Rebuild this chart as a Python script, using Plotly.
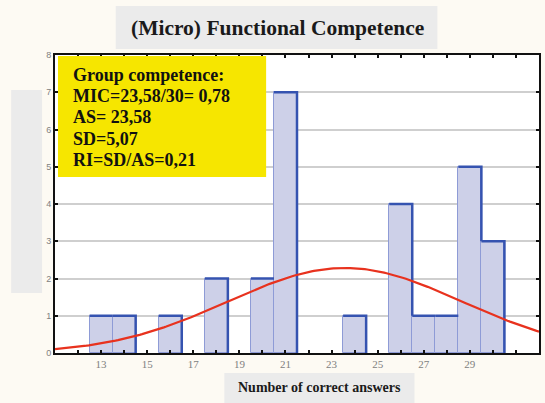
import math
import plotly.graph_objects as go

# Histogram of scores: number of correct answers and how many students got each
scores = [13, 14, 16, 18, 20, 21, 24, 26, 27, 28, 29, 30]
counts = [1, 1, 1, 2, 2, 7, 1, 4, 1, 1, 5, 3]

# Group statistics shown in the legend box
mean_score = 23.58
sd_score = 5.07
box_lines = [
    "Group competence:",
    "MIC=23,58/30= 0,78",
    "AS= 23,58",
    "SD=5,07",
    "RI=SD/AS=0,21",
]

x_ticks = [13, 15, 17, 19, 21, 23, 25, 27, 29]
y_ticks = [0, 1, 2, 3, 4, 5, 6, 7, 8]
x_range = [11, 32]
y_range = [0, 8]

SERIF = "Liberation Serif, Times New Roman, Times, serif"

W, H = 545, 403
ML, MR, MT, MB = 55, 4, 55, 50
PW, PH = W - ML - MR, H - MT - MB


def px(x):
    return (x - ML) / PW


def py(y):
    return (H - MB - y) / PH


fig = go.Figure()

# Bars with a thin light outline
fig.add_trace(go.Bar(
    x=scores, y=counts, width=1.0,
    marker=dict(color="#cdd0e8", line=dict(color="#8e9bd6", width=1)),
    hoverinfo="x+y", showlegend=False,
))

# Dark step outline: bar tops and descending right edges
by_score = dict(zip(scores, counts))
sx, sy = [], []
for s, c in zip(scores, counts):
    nxt = by_score.get(s + 1, 0)
    sx += [s - 0.5, s + 0.5]
    sy += [c, c]
    if nxt < c:
        sx += [s + 0.5]
        sy += [nxt]
    sx.append(None)
    sy.append(None)
fig.add_trace(go.Scatter(
    x=sx, y=sy, mode="lines",
    line=dict(color="#3553b0", width=2.5),
    hoverinfo="skip", showlegend=False,
))

# Fitted normal curve scaled to the histogram (N * bin width * pdf)
n_total = sum(counts)
cx = [x_range[0] + i * (x_range[1] - x_range[0]) / 200 for i in range(201)]
cy = [n_total / (sd_score * math.sqrt(2 * math.pi))
      * math.exp(-((v - mean_score) ** 2) / (2 * sd_score ** 2)) for v in cx]
fig.add_trace(go.Scatter(
    x=cx, y=cy, mode="lines",
    line=dict(color="#e8321e", width=2.2),
    hoverinfo="skip", showlegend=False,
))

shapes = [
    # title panel
    dict(type="rect", xref="paper", yref="paper", x0=px(116), x1=px(439),
         y0=py(49), y1=py(6), fillcolor="#ebebeb", line_width=0, layer="below"),
    # side panel on the left
    dict(type="rect", xref="paper", yref="paper", x0=px(11), x1=px(42),
         y0=py(293), y1=py(90), fillcolor="#ebebeb", line_width=0, layer="below"),
    # x-axis title panel
    dict(type="rect", xref="paper", yref="paper", x0=px(225), x1=px(416),
         y0=py(403), y1=py(373), fillcolor="#ebebeb", line_width=0, layer="below"),
    # yellow statistics box
    dict(type="rect", xref="paper", yref="paper", x0=px(58), x1=px(267),
         y0=py(177), y1=py(56), fillcolor="#f6e600", line_width=0, layer="above"),
]

annotations = [
    dict(text="<b>(Micro) Functional Competence</b>", xref="paper", yref="paper",
         x=px(278), y=py(28), xanchor="center", yanchor="middle", showarrow=False,
         font=dict(family=SERIF, size=21.5, color="#1a1a1a")),
    dict(text="<b>Number of correct answers</b>", xref="paper", yref="paper",
         x=px(320.5), y=py(387), xanchor="center", yanchor="middle", showarrow=False,
         font=dict(family=SERIF, size=14, color="#1a1a1a")),
]
for i, line in enumerate(box_lines):
    annotations.append(dict(
        text="<b>" + line + "</b>", xref="paper", yref="paper",
        x=px(71), y=py(75 + i * 21.2), xanchor="left", yanchor="middle",
        showarrow=False,
        font=dict(family=SERIF, size=18, color="#111111"),
    ))

fig.update_layout(
    width=W, height=H,
    margin=dict(l=ML, r=MR, t=MT, b=MB),
    paper_bgcolor="#fdfaf3", plot_bgcolor="#ffffff",
    bargap=0, shapes=shapes, annotations=annotations,
    xaxis=dict(
        range=x_range, tickvals=x_ticks, ticktext=[str(v) for v in x_ticks],
        showgrid=False, zeroline=False,
        showline=True, linecolor="#111111", linewidth=2, mirror="allticks",
        ticks="inside", ticklen=3, tickcolor="#111111", tickwidth=2,
        minor=dict(dtick=1, ticks="inside", ticklen=3, tickcolor="#111111", tickwidth=2),
        tickfont=dict(family=SERIF, size=11, color="#808080"),
    ),
    yaxis=dict(
        range=y_range, tickvals=y_ticks, ticktext=[str(v) for v in y_ticks],
        showgrid=True, gridcolor="#cfcfcf", gridwidth=1.5, zeroline=False,
        showline=True, linecolor="#111111", linewidth=2, mirror="allticks",
        ticks="inside", ticklen=3, tickcolor="#111111", tickwidth=2,
        tickfont=dict(family="Liberation Sans, Arial, sans-serif", size=9, color="#808080"),
    ),
)

fig.write_html("out.html")
